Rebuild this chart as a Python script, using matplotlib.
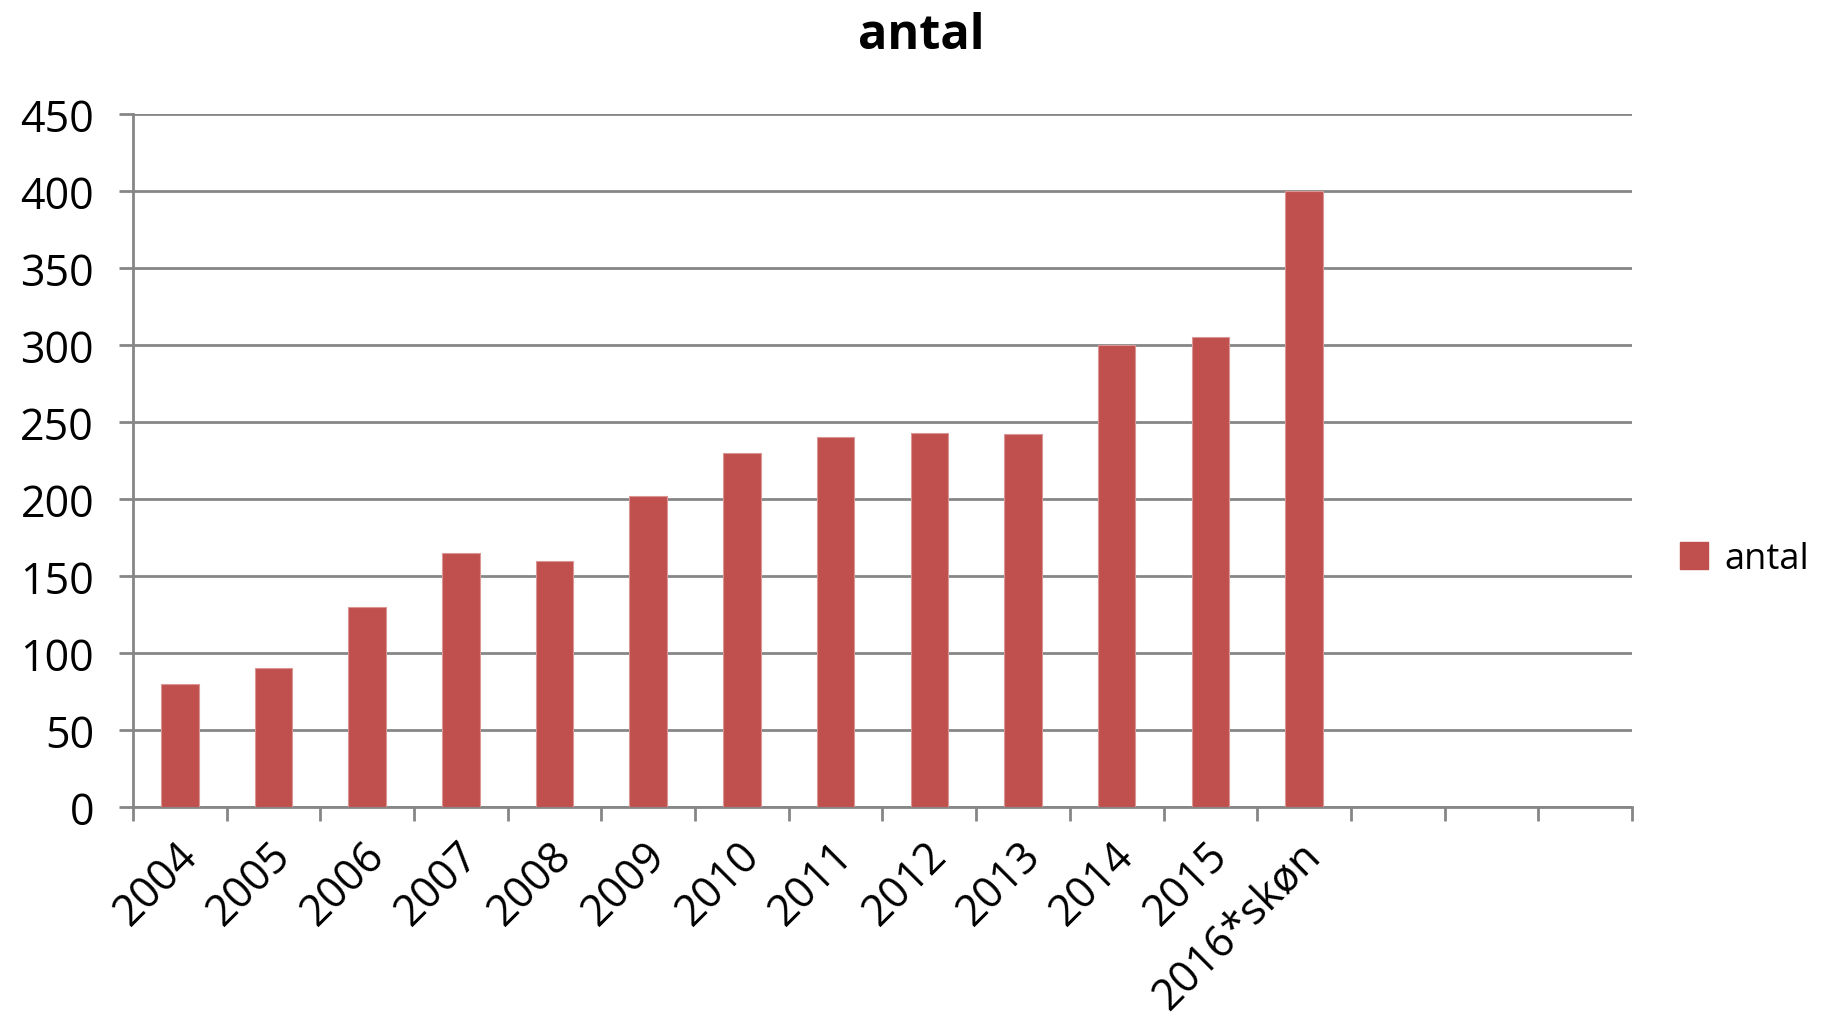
import matplotlib
matplotlib.use("Agg")
import matplotlib.pyplot as plt
from matplotlib.patches import Patch

categories = ["2004", "2005", "2006", "2007", "2008", "2009", "2010", "2011",
              "2012", "2013", "2014", "2015", "2016*skøn", "", "", ""]
values = [80, 90, 130, 165, 160, 202, 230, 240, 243, 242, 300, 305, 400]
yticks = [0, 50, 100, 150, 200, 250, 300, 350, 400, 450]
series_name = "antal"

plt.rcParams['font.family'] = ['Open Sans', 'DejaVu Sans']

bar_color = "#C0504D"
grid_color = "#868686"

fig = plt.figure(figsize=(18.21, 10.20), dpi=100)
ax = fig.add_axes([0.0730, 0.2078, 0.8232, 0.6795])

n = len(categories)
xs = list(range(len(values)))
ax.bar(xs, values, width=0.4, color=bar_color, edgecolor="#D99694", linewidth=0.8, zorder=3)

ax.set_xlim(-0.5, n - 0.5)
ax.set_ylim(0, 450)
ax.set_yticks(yticks)
ax.set_yticklabels([str(v) for v in yticks], fontsize=31)
ax.yaxis.grid(True, color=grid_color, linewidth=2, zorder=0)
ax.set_axisbelow(True)

ax.set_xticks([i - 0.5 for i in range(n + 1)], minor=False)
ax.set_xticklabels([])
ax.set_xticks([i + 0.12 for i in range(n)], minor=True)
ax.set_xticklabels(categories, minor=True, rotation=45, ha="right", va="center",
                   rotation_mode="anchor", fontsize=31)
ax.tick_params(axis="x", which="minor", length=0, pad=30)
ax.tick_params(axis="x", which="major", length=10, width=2, color=grid_color, direction="out")
ax.tick_params(axis="y", length=10, width=2, color=grid_color, direction="out", pad=18)

for s in ["top", "right"]:
    ax.spines[s].set_visible(False)
for s in ["left", "bottom"]:
    ax.spines[s].set_color(grid_color)
    ax.spines[s].set_linewidth(2)

fig.text(0.506, 0.964, series_name, ha="center", va="center", fontsize=35, fontweight="bold")

handle = Patch(facecolor=bar_color, edgecolor=bar_color)
fig.legend([handle], [series_name], loc="center left", bbox_to_anchor=(0.9225, 0.451),
           frameon=False, fontsize=26, handlelength=0.78, handleheight=0.78,
           handletextpad=0.45, borderaxespad=0, borderpad=0)

fig.savefig("out.png", dpi=100)
